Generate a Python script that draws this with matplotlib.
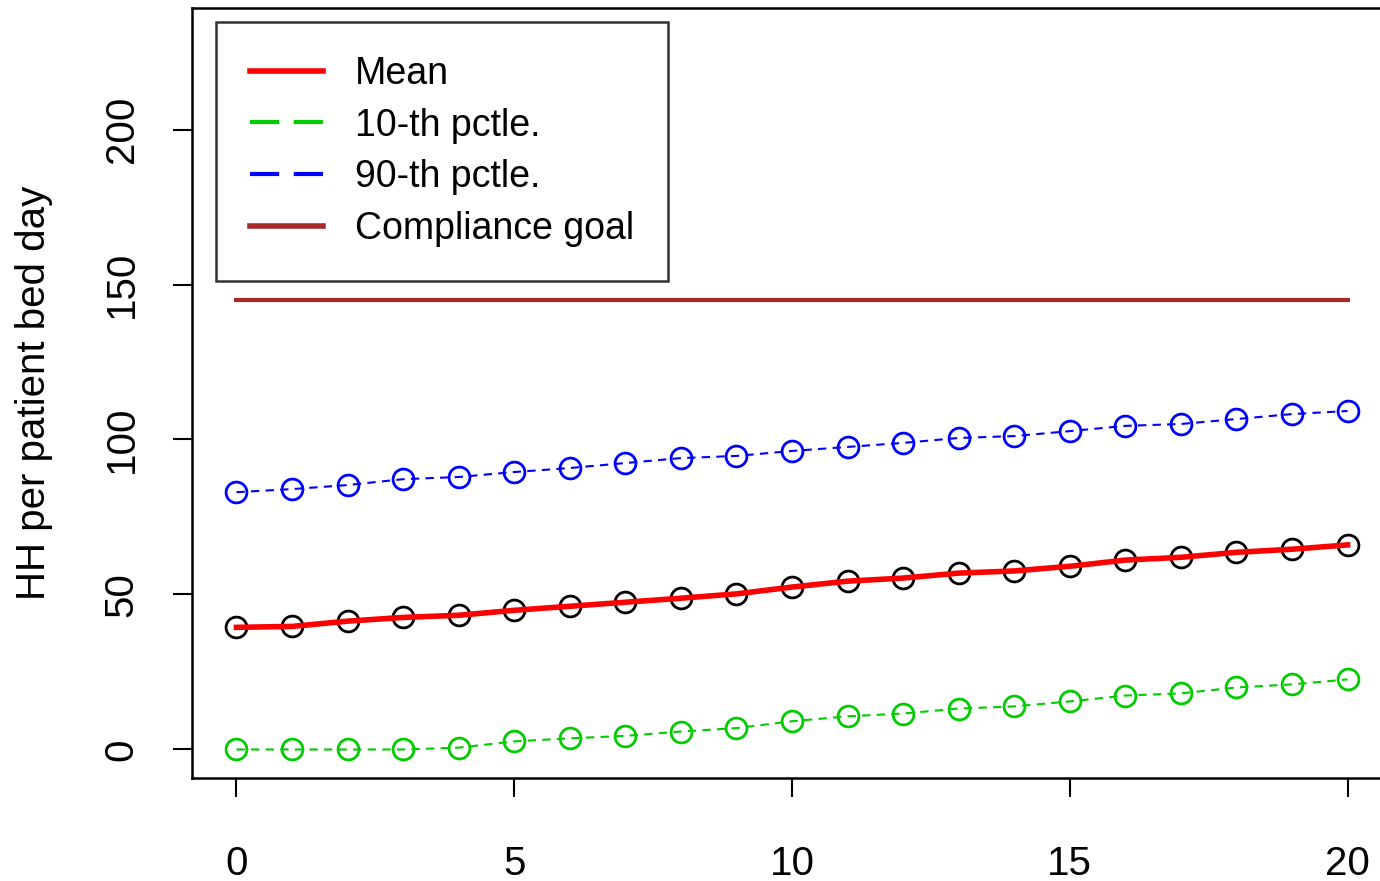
import numpy as np
import matplotlib.pyplot as plt
from matplotlib.lines import Line2D

plt.rcParams['font.family'] = ['Liberation Sans', 'DejaVu Sans']

# данные
days = np.arange(0, 21)
mean_hh = [39.4, 39.7, 41.4, 42.6, 43.3, 44.9, 46.2, 47.5, 48.8, 50.2, 52.4,
           54.3, 55.3, 56.9, 57.6, 59.1, 61.1, 62.0, 63.6, 64.6, 66.0]
p10_hh = [0.0, 0.0, 0.0, 0.0, 0.6, 2.6, 3.6, 4.4, 5.8, 6.9, 9.1,
          10.7, 11.6, 13.2, 13.9, 15.5, 17.4, 18.1, 20.0, 21.0, 22.6]
p90_hh = [83.0, 84.0, 85.3, 87.2, 87.9, 89.5, 90.8, 92.4, 94.0, 94.7, 96.3,
          97.6, 98.9, 100.5, 101.1, 102.7, 104.4, 105.0, 106.6, 108.2, 109.2]
goal = 145

fig = plt.figure(figsize=(13.8, 8.81), dpi=100)
ax = fig.add_axes([192/1380, 103/881, 1200/1380, 770/881])

ms = 15
ax.plot(days, p90_hh, color='blue', ls=(0, (4, 3)), lw=1.5,
        marker='o', mfc='none', mec='blue', ms=ms, mew=2)
ax.plot(days, p10_hh, color='#00cc00', ls=(0, (4, 3)), lw=1.5,
        marker='o', mfc='none', mec='#00cc00', ms=ms, mew=2)
ax.plot(days, mean_hh, ls='none', marker='o', mfc='none', mec='black', ms=ms, mew=2)
ax.plot(days, mean_hh, color='red', lw=4)
ax.plot([days[0], days[-1]], [goal, goal], color='#a52a2a', lw=3)

ax.set_xlim(-0.8, 20.8)
ax.set_ylim(-9.2, 239.2)
ax.set_xticks([0, 5, 10, 15, 20])
ax.set_yticks([0, 50, 100, 150, 200])
ax.tick_params(labelsize=29, length=14, width=1.5)
ax.tick_params(axis='x', pad=34)
ax.tick_params(axis='y', pad=23)
for lab in ax.get_yticklabels():
    lab.set_rotation(90)
    lab.set_va('center')
for s in ax.spines.values():
    s.set_linewidth(1.8)
ax.set_ylabel('HH per patient bed day', fontsize=29, labelpad=36)

handles = [
    Line2D([], [], color='red', lw=4),
    Line2D([], [], color='#00cc00', lw=3, ls=(0, (7, 3.5))),
    Line2D([], [], color='blue', lw=3, ls=(0, (7, 3.5))),
    Line2D([], [], color='#a52a2a', lw=4),
]
leg = fig.legend(handles, ['Mean', '10-th pctle.', '90-th pctle.', 'Compliance goal'],
                 loc='upper left', bbox_to_anchor=(216/1380, 1 - 22/881),
                 fontsize=27, frameon=True, fancybox=False, edgecolor='black',
                 handlelength=1.95, handletextpad=0.85, borderpad=0.9,
                 labelspacing=0.42, borderaxespad=0)
leg.get_frame().set_linewidth(1.8)

fig.savefig('out.png', dpi=100)
